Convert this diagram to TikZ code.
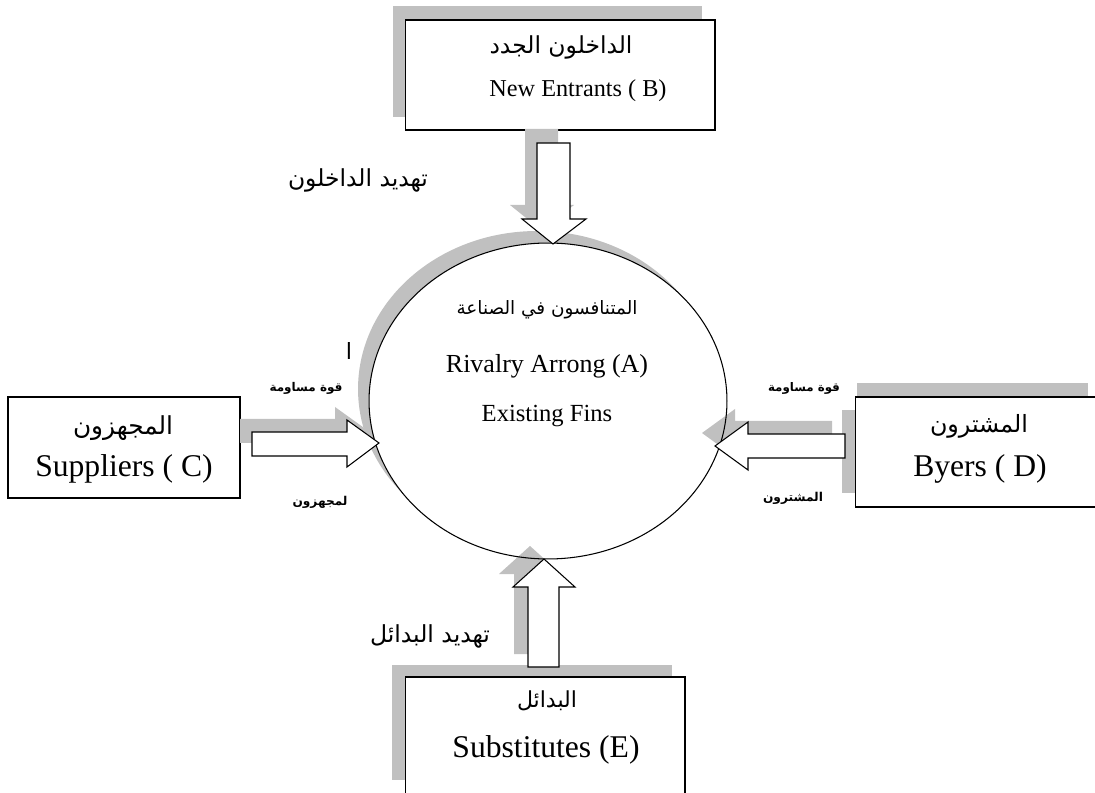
\documentclass[tikz,border=0pt]{standalone}
\usepackage{fontspec}
\usepackage{graphicx}
\usetikzlibrary{shapes.geometric}
\setmainfont{Liberation Serif}
\newfontfamily\arabicfont[Script=Arabic]{DejaVu Sans}
\TeXXeTstate=1
\definecolor{shadowgray}{RGB}{192,192,192}
% Arabic text scaled to a given width
\newcommand\arline[2]{\resizebox{#1}{!}{\arabicfont #2}}
\newcommand\arbold[2]{\resizebox{#1}{!}{\arabicfont\bfseries #2}}

\begin{document}
\begin{tikzpicture}[x=0.02cm,y=-0.02cm,
  box/.style={draw=black, fill=white, line width=0.6pt, inner sep=0pt, outer sep=0pt},
  shade/.style={fill=shadowgray, draw=none},
  blockarrow/.style={draw=black, fill=white, line width=0.6pt, line join=miter},
  lat/.style={inner sep=0pt, anchor=base, font=\fontsize{18}{20}\selectfont},
  arb/.style={inner sep=0pt},
]
\useasboundingbox (0,0) rectangle (1095,793);
\clip (0,0) rectangle (1095,793);
\fill[white] (0,0) rectangle (1095,793);

% ---- New entrants (B)
\fill[shade] (393,6) rectangle (702,117);
\node[box, minimum width=6.2cm, minimum height=2.2cm] (B) at (560,75) {};

% ---- Suppliers (C)
\node[box, minimum width=4.64cm, minimum height=2.02cm] (C) at (124,447.5) {};

% ---- Buyers (D)
\fill[shade] (857,383) rectangle (1088,396);
\fill[shade] (842,410) rectangle (855,493);
\node[box, minimum width=5.1cm, minimum height=2.2cm] (D) at (982.5,452) {};

% ---- Substitutes (E)
\fill[shade] (392,665) rectangle (672,780);
\node[box, minimum width=5.6cm, minimum height=2.66cm] (E) at (545,743.5) {};

% ---- Rivalry among existing firms (A)
\fill[shade] (537,389) ellipse [x radius=3.58cm, y radius=3.16cm];
\node[draw=none, fill=white, ellipse, minimum width=7.16cm, minimum height=6.32cm,
      inner sep=0pt, outer sep=0pt] (A) at (548,401) {};

% ---- shadows of the block arrows
\fill[shade] (240,419)--(335,419)--(335,407)--(367,430)--(335,454)--(335,443)--(240,443)--cycle;
\fill[shade] (832,421)--(735,421)--(735,409)--(702,433)--(735,457)--(735,445)--(832,445)--cycle;
\fill[shade] (525,129)--(558,129)--(558,205)--(574,205)--(541,230)--(510,205)--(525,205)--cycle;
\fill[shade] (514,654)--(545,654)--(545,574)--(561,574)--(530,546)--(499,574)--(514,574)--cycle;

% outline of the circle over the shadows
\draw[line width=0.6pt] (A.center) ellipse [x radius=3.58cm, y radius=3.16cm];

% ---- block arrows towards the rivalry circle
\coordinate (tipC) at (379,443);
\coordinate (tipD) at (715,446);
\coordinate (tipB) at (553,244);
\coordinate (tipE) at (544,559);
\draw[blockarrow] (252,432)--(347,432)--(347,420)--(tipC)--(347,467)--(347,456)--(252,456)--cycle;
\draw[blockarrow] (845,434)--(748,434)--(748,422)--(tipD)--(748,470)--(748,458)--(845,458)--cycle;
\draw[blockarrow] (537,143)--(570,143)--(570,219)--(586,219)--(tipB)--(522,219)--(537,219)--cycle;
\draw[blockarrow] (528,667)--(559,667)--(559,587)--(575,587)--(tipE)--(513,587)--(528,587)--cycle;

% ---- box texts
\node[arb] (Bar) at (561,47) {\arline{2.86cm}{\beginR الداخلون الجدد\endR}};
\node[lat, font=\fontsize{13.8}{16}\selectfont] (Ben) at (578,97) {New Entrants ( B)};
\node[arb] (Car) at (123,428) {\arline{2.0cm}{\beginR المجهزون\endR}};
\node[lat] (Cen) at (124,477) {Suppliers ( C)};
\node[arb] (Dar) at (979,426) {\arline{1.96cm}{\beginR المشترون\endR}};
\node[lat] (Den) at (980,477) {Byers ( D)};
\node[arb] (Ear) at (547,701) {\arline{1.2cm}{\beginR البدائل\endR}};
\node[lat] (Een) at (546,757) {Substitutes (E)};
\node[arb] (Aar) at (547,310) {\arline{3.62cm}{\beginR المتنافسون في الصناعة\endR}};
\node[lat, font=\fontsize{14.8}{17}\selectfont] (Aen) at (547,373) {Rivalry Arrong (A)};
\node[lat, font=\fontsize{14}{16}\selectfont] (Aen2) at (547,422) {Existing Fins};

% ---- arrow labels
\node[arb] (lB) at (358,180) {\arline{2.8cm}{\beginR تهديد الداخلون\endR}};
\node[arb] (lE) at (430,636) {\arline{2.4cm}{\beginR تهديد البدائل\endR}};
\node[arb] (lC1) at (306,388) {\arbold{1.46cm}{\beginR قوة مساومة\endR}};
\node[arb] (lC2) at (320,502) {\arbold{1.1cm}{\beginR لمجهزون\endR}};
\node[arb] (lD1) at (804,388) {\arbold{1.44cm}{\beginR قوة مساومة\endR}};
\node[arb] (lD2) at (793,498) {\arbold{1.2cm}{\beginR المشترون\endR}};
\node[arb] (alef) at (349,351) {\resizebox{!}{0.34cm}{\arabicfont\beginR ا\endR}};
\end{tikzpicture}
\end{document}
